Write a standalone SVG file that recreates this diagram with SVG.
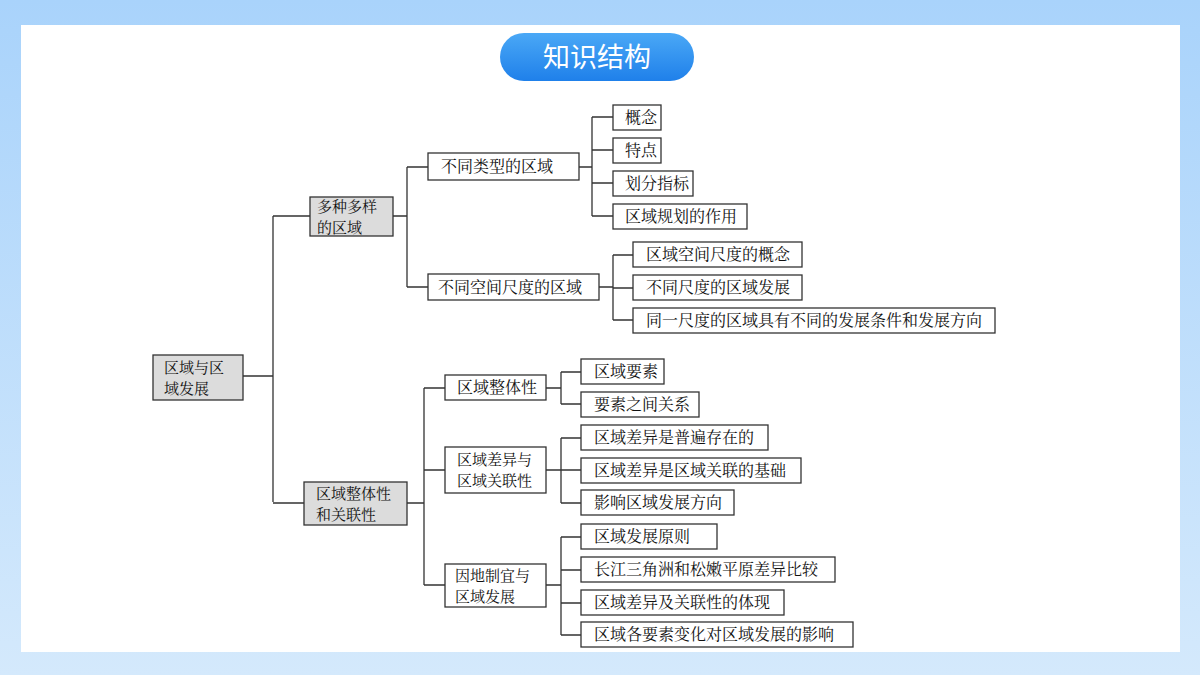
<svg xmlns="http://www.w3.org/2000/svg" width="1200" height="675" viewBox="0 0 1200 675">
<defs>
<linearGradient id="bg" x1="0" y1="0" x2="0" y2="1"><stop offset="0" stop-color="#a9d3fb"/><stop offset="1" stop-color="#d4e9fc"/></linearGradient>
<linearGradient id="pill" x1="0" y1="0" x2="0" y2="1"><stop offset="0" stop-color="#4aa8f6"/><stop offset="1" stop-color="#1f80ea"/></linearGradient>
<style>
.b{fill:#fff;stroke:#333;stroke-width:1.3}
.g{fill:#dcdcdc;stroke:#333;stroke-width:1.3}
text{font-family:"Noto Serif CJK SC","Noto Sans CJK SC",sans-serif;font-size:16px;fill:#111}
.s{font-size:15px}
.c path{fill:none;stroke:#333;stroke-width:1.3}
</style>
</defs>
<rect width="1200" height="675" fill="url(#bg)"/>
<rect x="21" y="25" width="1159" height="627" fill="#fff"/>
<g id="title"><rect x="500" y="33" width="194" height="48" rx="24" fill="url(#pill)"/>
<text x="597" y="67" text-anchor="middle" style="font-family:'Noto Sans CJK SC',sans-serif;font-size:27px;fill:#fff">知识结构</text></g>
<g class="c">
<path d="M243 376H273M273 216V502M273 216H310M273 503H304"/>
<path d="M393 216H407M407 167V287M407 167H428M407 287H428"/>
<path d="M579 167H592M592 117V216M592 117H613M592 150H613M592 183H613M592 216H613"/>
<path d="M599 287H613M613 255V320M613 255H633M613 288H633M613 320H633"/>
<path d="M407 503H424M424 388V585M424 388H445M424 470H445M424 585H445"/>
<path d="M546 388H561M561 372V404M561 372H581M561 404H581"/>
<path d="M546 470H561M561 438V503M561 438H581M561 470H581M561 503H581"/>
<path d="M546 585H561M561 537V635M561 537H581M561 570H581M561 603H581M561 635H581"/>
</g>
<g id="n0"><rect class="g" x="153" y="355" width="90" height="45"/><text class="s" x="164" y="373">区域与区</text><text class="s" x="164" y="394">域发展</text></g>
<g id="n1"><rect class="g" x="310" y="197" width="83" height="39"/><text class="s" x="317" y="212">多种多样</text><text class="s" x="317" y="233">的区域</text></g>
<g id="n2"><rect class="g" x="304" y="482" width="103" height="43"/><text class="s" x="316" y="499">区域整体性</text><text class="s" x="316" y="520">和关联性</text></g>
<g id="n3"><rect class="b" x="428" y="153" width="151" height="27"/><text x="441" y="172">不同类型的区域</text></g>
<g id="n4"><rect class="b" x="428" y="274" width="171" height="26"/><text x="438" y="293">不同空间尺度的区域</text></g>
<g id="n5"><rect class="b" x="613" y="105" width="48" height="25"/><text x="625" y="123">概念</text></g>
<g id="n6"><rect class="b" x="613" y="138" width="48" height="25"/><text x="625" y="156">特点</text></g>
<g id="n7"><rect class="b" x="613" y="171" width="80" height="25"/><text x="625" y="189">划分指标</text></g>
<g id="n8"><rect class="b" x="613" y="204" width="134" height="25"/><text x="625" y="222">区域规划的作用</text></g>
<g id="n9"><rect class="b" x="633" y="242" width="169" height="25"/><text x="646" y="260">区域空间尺度的概念</text></g>
<g id="n10"><rect class="b" x="633" y="275" width="169" height="25"/><text x="646" y="293">不同尺度的区域发展</text></g>
<g id="n11"><rect class="b" x="633" y="308" width="362" height="25"/><text x="646" y="326">同一尺度的区域具有不同的发展条件和发展方向</text></g>
<g id="n12"><rect class="b" x="445" y="375" width="101" height="25"/><text x="457" y="393">区域整体性</text></g>
<g id="n13"><rect class="b" x="445" y="447" width="101" height="46"/><text class="s" x="457" y="465">区域差异与</text><text class="s" x="457" y="486">区域关联性</text></g>
<g id="n14"><rect class="b" x="445" y="564" width="101" height="43"/><text class="s" x="455" y="581">因地制宜与</text><text class="s" x="455" y="602">区域发展</text></g>
<g id="n15"><rect class="b" x="581" y="359" width="83" height="25"/><text x="594" y="377">区域要素</text></g>
<g id="n16"><rect class="b" x="581" y="392" width="118" height="25"/><text x="594" y="410">要素之间关系</text></g>
<g id="n17"><rect class="b" x="581" y="425" width="187" height="25"/><text x="594" y="443">区域差异是普遍存在的</text></g>
<g id="n18"><rect class="b" x="581" y="458" width="220" height="25"/><text x="594" y="476">区域差异是区域关联的基础</text></g>
<g id="n19"><rect class="b" x="581" y="490" width="153" height="25"/><text x="594" y="508">影响区域发展方向</text></g>
<g id="n20"><rect class="b" x="581" y="524" width="136" height="25"/><text x="594" y="542">区域发展原则</text></g>
<g id="n21"><rect class="b" x="581" y="557" width="254" height="25"/><text x="594" y="575">长江三角洲和松嫩平原差异比较</text></g>
<g id="n22"><rect class="b" x="581" y="590" width="203" height="25"/><text x="594" y="608">区域差异及关联性的体现</text></g>
<g id="n23"><rect class="b" x="581" y="622" width="272" height="25"/><text x="594" y="640">区域各要素变化对区域发展的影响</text></g>
</svg>
